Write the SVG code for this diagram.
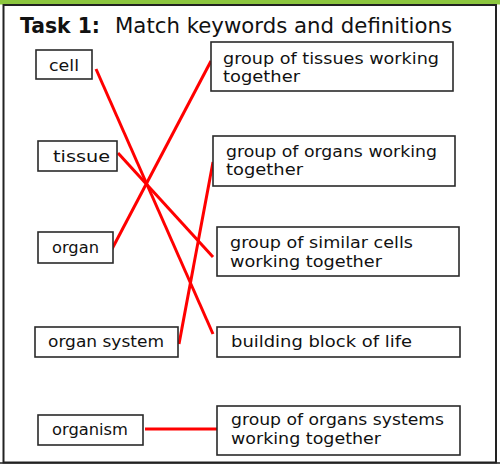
<svg xmlns="http://www.w3.org/2000/svg" width="500" height="465" viewBox="0 0 500 465">
<style>
.box{fill:#fff;stroke:#2a2a2a;stroke-width:1.6}
.t{font-family:"DejaVu Sans","Noto Sans",sans-serif;font-size:16.5px;fill:#111}
.link{stroke:#ff0000;stroke-width:3;stroke-linecap:butt;fill:none}
</style>
<rect x="0" y="0" width="500" height="465" fill="#fff"/>
<rect x="0" y="0" width="500" height="4.5" fill="#8cc63f"/>
<rect x="3.5" y="5" width="492.5" height="457.5" fill="none" stroke="#222" stroke-width="2"/>
<line x1="0" y1="463" x2="500" y2="463" stroke="#222" stroke-width="1.5"/>
<g id="title">
<text x="20" y="33" font-family="DejaVu Sans, sans-serif" font-size="21" font-weight="bold" fill="#111" textLength="80" lengthAdjust="spacingAndGlyphs">Task 1:</text>
<text x="115" y="33" font-family="DejaVu Sans, sans-serif" font-size="21" fill="#111" textLength="337" lengthAdjust="spacingAndGlyphs">Match keywords and definitions</text>
</g>
<g id="connectors">
<line class="link" x1="96" y1="69" x2="213" y2="334"/>
<line class="link" x1="118" y1="153" x2="213" y2="257"/>
<line class="link" x1="112" y1="249" x2="211" y2="61"/>
<line class="link" x1="179" y1="344" x2="213" y2="162"/>
<line class="link" x1="145" y1="429" x2="217" y2="429"/>
</g>
<g id="cell"><rect class="box" x="36" y="50" width="56" height="29"/><text class="t" x="49" y="71" textLength="30" lengthAdjust="spacingAndGlyphs">cell</text></g>
<g id="tissue"><rect class="box" x="38" y="141" width="79" height="30"/><text class="t" x="53" y="162" textLength="57" lengthAdjust="spacingAndGlyphs">tissue</text></g>
<g id="organ"><rect class="box" x="38" y="232" width="75" height="31"/><text class="t" x="52" y="253" textLength="47" lengthAdjust="spacingAndGlyphs">organ</text></g>
<g id="organ-system"><rect class="box" x="35" y="327" width="143" height="30"/><text class="t" x="48" y="347" textLength="116" lengthAdjust="spacingAndGlyphs">organ system</text></g>
<g id="organism"><rect class="box" x="38" y="415" width="105" height="30"/><text class="t" x="52" y="435" textLength="76" lengthAdjust="spacingAndGlyphs">organism</text></g>
<g id="def-tissues"><rect class="box" x="211" y="42" width="242" height="49"/><text class="t" x="223" y="64" textLength="216" lengthAdjust="spacingAndGlyphs">group of tissues working</text><text class="t" x="223" y="82" textLength="77" lengthAdjust="spacingAndGlyphs">together</text></g>
<g id="def-organs"><rect class="box" x="213" y="136" width="242" height="50"/><text class="t" x="226" y="157" textLength="211" lengthAdjust="spacingAndGlyphs">group of organs working</text><text class="t" x="226" y="175" textLength="77" lengthAdjust="spacingAndGlyphs">together</text></g>
<g id="def-cells"><rect class="box" x="217" y="227" width="242" height="49"/><text class="t" x="230" y="248" textLength="183" lengthAdjust="spacingAndGlyphs">group of similar cells</text><text class="t" x="230" y="267" textLength="152" lengthAdjust="spacingAndGlyphs">working together</text></g>
<g id="def-block"><rect class="box" x="217" y="327" width="243" height="30"/><text class="t" x="231" y="347" textLength="181" lengthAdjust="spacingAndGlyphs">building block of life</text></g>
<g id="def-systems"><rect class="box" x="217" y="406" width="243" height="49"/><text class="t" x="231" y="425" textLength="213" lengthAdjust="spacingAndGlyphs">group of organs systems</text><text class="t" x="231" y="444" textLength="150" lengthAdjust="spacingAndGlyphs">working together</text></g>
</svg>
